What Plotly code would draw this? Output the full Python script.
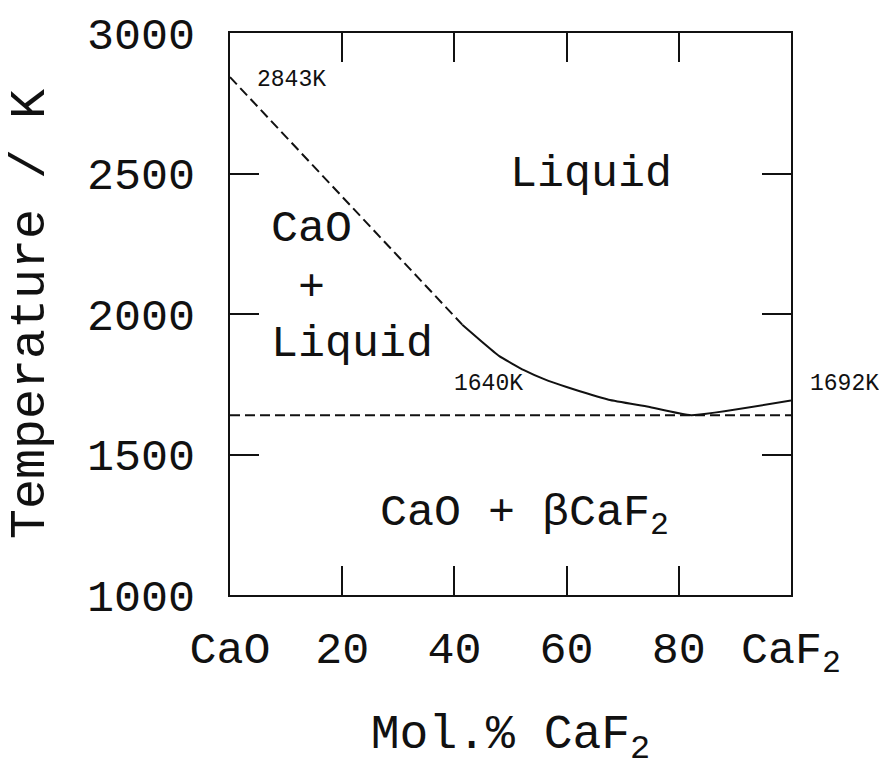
import plotly.graph_objects as go

# Liquidus of the CaO-CaF2 system (mol.% CaF2, temperature in K)
liq_caO_x = [0, 41.4]
liq_caO_t = [2843, 1962]

liq_x = [41.4, 44.9, 48.0, 52.4, 56.0, 60.0, 67.5, 74.6, 82.2, 100]
liq_t = [1962, 1901, 1850, 1800, 1768, 1740, 1695, 1670, 1640, 1692]

# Eutectic isotherm
eut_x = [0, 100]
eut_t = [1640, 1640]

x_ticks = [0, 20, 40, 60, 80, 100]
x_ticktext = ["CaO", "20", "40", "60", "80", "CaF<sub>2</sub>"]
y_ticks = [1000, 1500, 2000, 2500, 3000]

FONT = "Liberation Mono"
BLACK = "#111111"

fig = go.Figure()

fig.add_trace(go.Scatter(x=liq_caO_x, y=liq_caO_t, mode="lines",
                         line=dict(color=BLACK, width=2, dash="10px,5px"),
                         hoverinfo="skip", showlegend=False))
fig.add_trace(go.Scatter(x=liq_x, y=liq_t, mode="lines",
                         line=dict(color=BLACK, width=2, shape="spline", smoothing=0.4),
                         hoverinfo="skip", showlegend=False))
fig.add_trace(go.Scatter(x=eut_x, y=eut_t, mode="lines",
                         line=dict(color=BLACK, width=2, dash="10px,5px"),
                         hoverinfo="skip", showlegend=False))

# Point labels
small = dict(family=FONT, size=23, color=BLACK)
fig.add_annotation(x=11.0, y=2834, text=f"{liq_caO_t[0]}K", showarrow=False, font=small)
fig.add_annotation(x=46.0, y=1750, text=f"{eut_t[0]}K", showarrow=False, font=small)
# the CaF2 melting point sits just outside the right edge of the frame
fig.add_annotation(xref="paper", x=1.03, xanchor="left", y=1750, text=f"{liq_t[-1]}K",
                   showarrow=False, font=small)

# Phase field labels
big = dict(family=FONT, size=45, color=BLACK)
fig.add_annotation(x=64.3, y=2497, text="Liquid", showarrow=False, font=big)
fig.add_annotation(x=14.6, y=2299, text="CaO", showarrow=False, font=big)
fig.add_annotation(x=14.6, y=2090, text="+", showarrow=False, font=big)
fig.add_annotation(x=21.8, y=1892, text="Liquid", showarrow=False, font=big)
fig.add_annotation(x=52.5, y=1283, text="CaO + βCaF<sub>2</sub>", showarrow=False, font=big)

axis_common = dict(
    showline=True, linecolor=BLACK, linewidth=2, mirror="ticks",
    ticks="inside", ticklen=29, tickwidth=2, tickcolor=BLACK,
    showgrid=False, zeroline=False,
    tickfont=dict(family=FONT, size=45, color=BLACK),
)

fig.update_xaxes(range=[0, 100], tickvals=x_ticks, ticktext=x_ticktext,
                 ticklabelstandoff=12,
                 title=dict(text="Mol.% CaF<sub>2</sub>", standoff=34,
                            font=dict(family=FONT, size=48, color=BLACK)),
                 **axis_common)
fig.update_yaxes(range=[1000, 3000], tickvals=y_ticks,
                 ticklabelstandoff=24,
                 title=dict(text="Temperature / K", standoff=26,
                            font=dict(family=FONT, size=50, color=BLACK)),
                 **axis_common)

fig.update_layout(
    width=879, height=772,
    margin=dict(l=230, r=88, t=30, b=177),
    paper_bgcolor="white", plot_bgcolor="white",
    showlegend=False,
)

fig.write_html("out.html")
